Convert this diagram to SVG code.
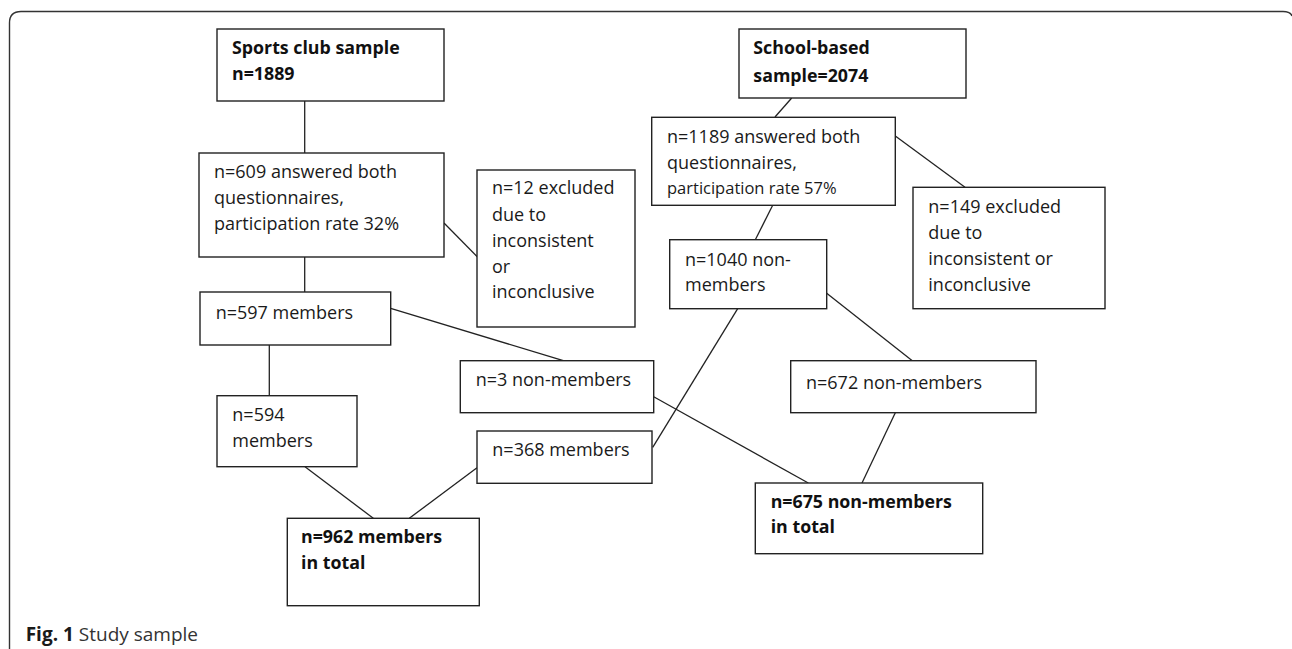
<svg xmlns="http://www.w3.org/2000/svg" width="1292" height="649" viewBox="0 0 1292 649">
<style>
  .box { fill: #ffffff; stroke: #222222; stroke-width: 1.4; }
  .t { font-family: "Open Sans", "DejaVu Sans", sans-serif; font-size: 18px; fill: #1a1a1a; }
  .b { font-family: "Open Sans", "DejaVu Sans", sans-serif; font-size: 17.8px; font-weight: bold; fill: #111111; }
  .c { stroke: #222222; stroke-width: 1.3; fill: none; }
  .frame { fill: none; stroke: #333333; stroke-width: 1.4; }
</style>
<rect width="1292" height="649" fill="#ffffff"/>
<path class="frame" d="M 9.5 650 V 23 Q 9.5 11.5 21 11.5 H 1283 Q 1290.5 11.5 1292 16"/>

<g id="connectors">
  <line class="c" x1="304.7" y1="101" x2="304.7" y2="153"/>
  <line class="c" x1="304.7" y1="257" x2="304.7" y2="292"/>
  <line class="c" x1="444" y1="223" x2="477.5" y2="257"/>
  <line class="c" x1="791.7" y1="98" x2="775" y2="117"/>
  <line class="c" x1="895.3" y1="136" x2="965" y2="187.3"/>
  <line class="c" x1="772.7" y1="205.3" x2="755.3" y2="239.7"/>
  <line class="c" x1="826.7" y1="293.3" x2="912.3" y2="360.7"/>
  <line class="c" x1="737.7" y1="308.7" x2="652.7" y2="447.3"/>
  <line class="c" x1="390.7" y1="308.3" x2="563.3" y2="360.7"/>
  <line class="c" x1="653.7" y1="396.7" x2="808.3" y2="483"/>
  <line class="c" x1="895.3" y1="412.7" x2="862" y2="483"/>
  <line class="c" x1="269.3" y1="345" x2="269.3" y2="395.7"/>
  <line class="c" x1="305" y1="466.7" x2="373.3" y2="518.3"/>
  <line class="c" x1="477" y1="467.7" x2="409.3" y2="518.3"/>
</g>

<g id="sports-club">
  <rect class="box" x="217" y="29" width="227" height="72"/>
  <text class="b" x="232" y="54">Sports club sample</text>
  <text class="b" x="232" y="80">n=1889</text>
</g>

<g id="answered-609">
  <rect class="box" x="199" y="153" width="245" height="104"/>
  <text class="t" x="214" y="178">n=609 answered both</text>
  <text class="t" x="214" y="204">questionnaires,</text>
  <text class="t" x="214" y="230">participation rate 32%</text>
</g>

<g id="excluded-12">
  <rect class="box" x="477" y="170" width="158" height="157"/>
  <text class="t" x="492" y="194.3">n=12 excluded</text>
  <text class="t" x="492" y="220.7">due to</text>
  <text class="t" x="492" y="246.7">inconsistent</text>
  <text class="t" x="492" y="272.7">or</text>
  <text class="t" x="492" y="298.3">inconclusive</text>
</g>

<g id="school-based">
  <rect class="box" x="739" y="29" width="227" height="69"/>
  <text class="b" x="753.3" y="54.3">School-based</text>
  <text class="b" x="753.3" y="81.7">sample=2074</text>
</g>

<g id="answered-1189">
  <rect class="box" x="651.7" y="117.3" width="243.6" height="88"/>
  <text class="t" x="667" y="142.7">n=1189 answered both</text>
  <text class="t" x="667" y="169.3">questionnaires,</text>
  <text class="t" x="667" y="194" style="font-size:16.5px">participation rate 57%</text>
</g>

<g id="excluded-149">
  <rect class="box" x="913" y="187.3" width="192" height="121.4"/>
  <text class="t" x="928.3" y="213.3">n=149 excluded</text>
  <text class="t" x="928.3" y="239.3">due to</text>
  <text class="t" x="928.3" y="265">inconsistent or</text>
  <text class="t" x="928.3" y="290.7">inconclusive</text>
</g>

<g id="nonmembers-1040">
  <rect class="box" x="669.7" y="239.7" width="157" height="69"/>
  <text class="t" x="685" y="265.7">n=1040 non-</text>
  <text class="t" x="685" y="291">members</text>
</g>

<g id="members-597">
  <rect class="box" x="200" y="292" width="190.7" height="53"/>
  <text class="t" x="215.7" y="319">n=597 members</text>
</g>

<g id="members-594">
  <rect class="box" x="217" y="395.7" width="140" height="71"/>
  <text class="t" x="232.3" y="420.7">n=594</text>
  <text class="t" x="232.3" y="446.7">members</text>
</g>

<g id="nonmembers-3">
  <rect class="box" x="460.3" y="360.7" width="193.4" height="52"/>
  <text class="t" x="475.7" y="386">n=3 non-members</text>
</g>

<g id="members-368">
  <rect class="box" x="477" y="431" width="175" height="52.3"/>
  <text class="t" x="492.3" y="456">n=368 members</text>
</g>

<g id="nonmembers-672">
  <rect class="box" x="790.7" y="360.7" width="245.3" height="52"/>
  <text class="t" x="806" y="389">n=672 non-members</text>
</g>

<g id="members-962-total">
  <rect class="box" x="287.3" y="518.3" width="192" height="87.4"/>
  <text class="b" x="301" y="542.7">n=962 members</text>
  <text class="b" x="301" y="568.7">in total</text>
</g>

<g id="nonmembers-675-total">
  <rect class="box" x="755.3" y="483" width="227.4" height="70.7"/>
  <text class="b" x="770.7" y="508">n=675 non-members</text>
  <text class="b" x="770.7" y="533.3">in total</text>
</g>

<text x="25.7" y="640.7" style="font-family:'Open Sans','DejaVu Sans',sans-serif;font-size:19px;fill:#333333"><tspan style="font-weight:bold;fill:#1a1a1a">Fig. 1</tspan> Study sample</text>
</svg>
